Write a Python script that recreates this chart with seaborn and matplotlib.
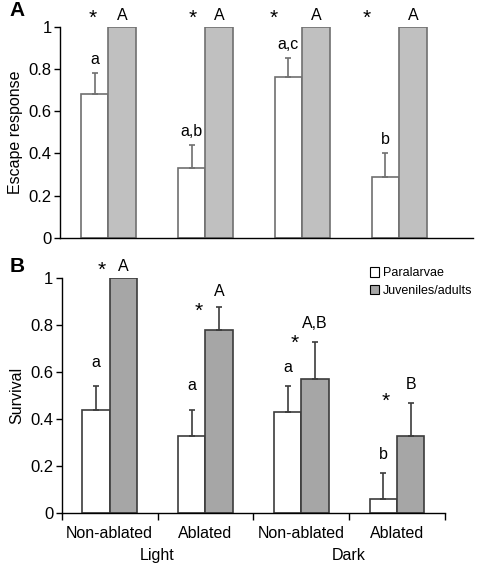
import pandas as pd
import matplotlib
matplotlib.use('Agg')
import matplotlib.pyplot as plt
from matplotlib.patches import Patch
from matplotlib.ticker import FixedLocator
import seaborn as sns

# %% data

groups = ['Light Non-ablated', 'Light Ablated', 'Dark Non-ablated', 'Dark Ablated']
xlabels = ['Non-ablated', 'Ablated', 'Non-ablated', 'Ablated']
stages = ['Paralarvae', 'Juveniles/adults']

# panel A: escape response
esc_para = [0.68, 0.33, 0.76, 0.29]
esc_para_err = [0.10, 0.11, 0.09, 0.11]
esc_juv = [1.0, 1.0, 1.0, 1.0]
esc_juv_err = [0.0, 0.0, 0.0, 0.0]
esc_para_lab = ['a', 'a,b', 'a,c', 'b']
esc_juv_lab = ['A', 'A', 'A', 'A']

# panel B: survival
surv_para = [0.44, 0.33, 0.43, 0.06]
surv_para_err = [0.10, 0.11, 0.11, 0.11]
surv_juv = [1.0, 0.78, 0.57, 0.33]
surv_juv_err = [0.0, 0.10, 0.16, 0.14]
surv_para_lab = ['a', 'a', 'a', 'b']
surv_juv_lab = ['A', 'A', 'A,B', 'B']

# %% build long tables for seaborn

def long_df(para, juv, para_err, juv_err):
    return pd.DataFrame({'group': groups * 2,
                         'stage': [stages[0]] * 4 + [stages[1]] * 4,
                         'value': para + juv,
                         'err': para_err + juv_err})

dfA = long_df(esc_para, esc_juv, esc_para_err, esc_juv_err)
dfB = long_df(surv_para, surv_juv, surv_para_err, surv_juv_err)

plt.rcParams['font.family'] = ['Liberation Sans', 'DejaVu Sans']
plt.rcParams['font.size'] = 11

fig = plt.figure(figsize=(4.8, 5.66), dpi=100)
axA = fig.add_axes([0.125, 0.5795, 0.86, 0.3735])
axB = fig.add_axes([0.1285, 0.0931, 0.7985, 0.4152])


def draw(ax, df, colors, edge, para_lab, juv_lab, star_dx, star_y, lab_off):
    sns.barplot(data=df, x='group', y='value', hue='stage', order=groups,
                hue_order=stages, palette=colors, width=0.57, errorbar=None,
                edgecolor=edge, linewidth=1.2, legend=False, ax=ax)
    labs = [para_lab, juv_lab]
    bars = list(ax.containers)
    for k, cont in enumerate(bars):
        sub = df[df['stage'] == stages[k]].reset_index(drop=True)
        for i, bar in enumerate(cont):
            xc = bar.get_x() + bar.get_width() / 2
            top = sub['value'][i] + sub['err'][i]
            if sub['err'][i] > 0:
                ax.errorbar(xc, sub['value'][i], yerr=[[0], [sub['err'][i]]],
                            fmt='none', ecolor=edge, elinewidth=1.2,
                            capsize=2.5, capthick=1.2)
            ax.text(xc, top + lab_off[k][i], labs[k][i], ha='center',
                    va='bottom', fontsize=11.5, clip_on=False)
    for i in range(4):
        ax.text(i + star_dx[i], star_y[i], '*', ha='center', va='center',
                fontsize=15, clip_on=False)
    ax.set_ylim(0, 1)
    ax.set_yticks([0, 0.2, 0.4, 0.6, 0.8, 1.0])
    ax.set_yticklabels(['0', '0.2', '0.4', '0.6', '0.8', '1'])
    ax.tick_params(axis='y', length=4, width=1, labelsize=12, pad=2)
    for s in ['top', 'right']:
        ax.spines[s].set_visible(False)
    ax.spines['left'].set_linewidth(1)
    ax.spines['bottom'].set_linewidth(1)


# %% panel A
draw(axA, dfA, ['white', '#c0c0c0'], '#707070', esc_para_lab, esc_juv_lab,
     [-0.16, -0.13, -0.29, -0.33], [1.04] * 4,
     [[0.03, 0.03, 0.03, 0.03], [0.015, 0.015, 0.015, 0.015]])
axA.set_xlim(-0.5, 3.76)
axA.set_xlabel('')
axA.set_xticks([])
axA.set_ylabel('Escape response', fontsize=11.5)
fig.text(0.035, 0.982, 'A', fontsize=15, fontweight='bold', ha='center', va='center')

# %% panel B
draw(axB, dfB, ['white', '#a6a6a6'], '#3c3c3c', surv_para_lab, surv_juv_lab,
     [-0.08, -0.07, -0.07, -0.115], [1.035, 0.86, 0.725, 0.475],
     [[0.07, 0.07, 0.05, 0.05], [0.02, 0.03, 0.045, 0.045]])
axB.set_xlim(-0.5, 3.5)
axB.set_xlabel('')
axB.set_xticks(range(4))
axB.set_xticklabels(xlabels, fontsize=11.5)
axB.tick_params(axis='x', which='major', length=0, pad=9)
axB.xaxis.set_minor_locator(FixedLocator([-0.5, 0.5, 1.5, 2.5, 3.5]))
axB.tick_params(axis='x', which='minor', length=5, width=1)
axB.set_ylabel('Survival', fontsize=11.5)
for xx, name in [(0.5, 'Light'), (2.5, 'Dark')]:
    axB.text(xx, -0.18, name, transform=axB.get_xaxis_transform(),
             ha='center', va='center', fontsize=11.5)
fig.text(0.035, 0.53, 'B', fontsize=15, fontweight='bold', ha='center', va='center')

handles = [Patch(facecolor='white', edgecolor='black', linewidth=0.8),
           Patch(facecolor='#a6a6a6', edgecolor='black', linewidth=0.8)]
fig.legend(handles, stages, loc='upper left', bbox_to_anchor=(0.752, 0.543),
           frameon=False, fontsize=9, handlelength=0.75, handleheight=0.75,
           handletextpad=0.3, labelspacing=0.45, borderpad=0.2)

plt.savefig('out.png', dpi=100)
